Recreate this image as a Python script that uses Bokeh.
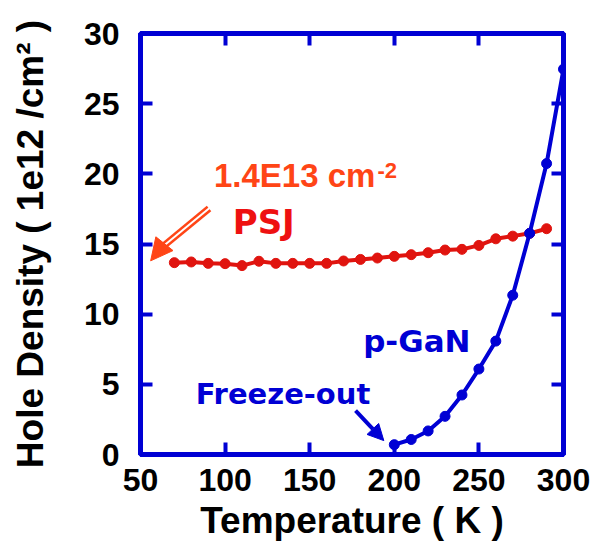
from bokeh.plotting import figure
from bokeh.models import Range1d, FixedTicker, LinearAxis, Label, Arrow, NormalHead, ColumnDataSource
from bokeh.embed import file_html
from bokeh.resources import INLINE

# ---- data ----
psj_temp = [70, 80, 90, 100, 110, 120, 130, 140, 150, 160, 170, 180, 190, 200,
            210, 220, 230, 240, 250, 260, 270, 280, 290]
psj_density = [13.67, 13.72, 13.62, 13.6, 13.46, 13.77, 13.62, 13.62, 13.62, 13.62,
               13.79, 13.9, 14.0, 14.12, 14.24, 14.38, 14.57, 14.62, 14.9, 15.37,
               15.56, 15.76, 16.09]
gan_temp = [200, 210, 220, 230, 240, 250, 260, 270, 280, 290, 300]
gan_density = [0.7, 1.07, 1.68, 2.72, 4.24, 6.09, 8.08, 11.35, 15.76, 20.73, 27.46]
x_ticks = [50, 100, 150, 200, 250, 300]
y_ticks = [0, 5, 10, 15, 20, 25, 30]

BLUE = "#0000d4"
RED = "#e0140f"
ORANGE = "#ff4516"
FONT = "Liberation Sans"
AFONT = "DejaVu Sans"

p = figure(width=596, height=546, output_backend="svg", toolbar_location=None,
           x_range=Range1d(50, 300), y_range=Range1d(0, 30),
           min_border_left=140, min_border_right=33, min_border_top=33, min_border_bottom=92)
p.xgrid.visible = False
p.ygrid.visible = False
p.outline_line_color = BLUE
p.outline_line_width = 5
p.background_fill_color = "white"

def style_axis(ax, labels=True):
    ax.axis_line_color = BLUE
    ax.axis_line_width = 5
    ax.major_tick_line_color = BLUE
    ax.major_tick_line_width = 4
    ax.major_tick_in = 12
    ax.major_tick_out = 0
    ax.minor_tick_line_color = None
    if labels:
        ax.major_label_text_font = FONT
        ax.major_label_text_font_style = "bold"
        ax.major_label_text_font_size = "32px"
        ax.major_label_text_color = "black"
        ax.axis_label_text_font = FONT
        ax.axis_label_text_font_style = "bold"
        ax.axis_label_text_font_size = "37px"
        ax.axis_label_text_color = "black"
    else:
        ax.major_label_text_font_size = "0px"
        ax.major_label_text_color = None
        ax.major_label_standoff = 0

p.xaxis.ticker = FixedTicker(ticks=x_ticks)
p.yaxis.ticker = FixedTicker(ticks=y_ticks)
style_axis(p.xaxis[0])
style_axis(p.yaxis[0])
p.xaxis.axis_label = "Temperature ( K )"
p.yaxis.axis_label = "Hole Density ( 1e12 /cm\u00b2 )"
p.xaxis.major_label_standoff = 14
p.xaxis.axis_label_standoff = 6
p.yaxis.major_label_standoff = 21
p.yaxis.axis_label_standoff = 30

top = LinearAxis(ticker=FixedTicker(ticks=x_ticks))
right = LinearAxis(ticker=FixedTicker(ticks=y_ticks))
style_axis(top, labels=False)
style_axis(right, labels=False)
p.add_layout(top, "above")
p.add_layout(right, "right")

# ---- series ----
psj = ColumnDataSource(dict(x=psj_temp, y=psj_density))
gan = ColumnDataSource(dict(x=gan_temp, y=gan_density))
p.line("x", "y", source=psj, line_color=RED, line_width=4)
p.scatter("x", "y", source=psj, size=10, fill_color=RED, line_color=RED)
p.line("x", "y", source=gan, line_color=BLUE, line_width=4)
p.scatter("x", "y", source=gan, size=10, fill_color=BLUE, line_color=BLUE)

# ---- annotations ----
p.add_layout(Label(x=93.4, y=19.9, text="1.4E13 cm", text_font=FONT, text_font_style="bold",
                   text_font_size="33px", text_color=ORANGE, text_baseline="alphabetic"))
p.add_layout(Label(x=190.0, y=20.8, text="-2", text_font=FONT, text_font_style="bold",
                   text_font_size="22px", text_color=ORANGE, text_baseline="top"))
p.add_layout(Label(x=104.5, y=16.6, text="PSJ", text_font=AFONT, text_font_style="bold",
                   text_font_size="34px", text_color="#ee1111", text_baseline="alphabetic"))
p.add_layout(Label(x=181.6, y=8.1, text="p-GaN", text_font=AFONT, text_font_style="bold",
                   text_font_size="31px", text_color=BLUE, text_baseline="alphabetic"))
p.add_layout(Label(x=82.6, y=4.3, text="Freeze-out", text_font=AFONT, text_font_style="bold",
                   text_font_size="29px", text_color=BLUE, text_baseline="alphabetic"))

# red hollow (double) arrow
p.segment(x0=[90.5], y0=[17.53], x1=[61.0], y1=[14.6], line_color=ORANGE, line_width=7)
p.segment(x0=[90.8], y0=[17.56], x1=[62.5], y1=[14.75], line_color="white", line_width=2)
p.add_layout(Arrow(x_start=62.0, y_start=14.7, x_end=56.0, y_end=13.8, line_alpha=0,
                   end=NormalHead(size=22, fill_color=ORANGE, line_color=ORANGE, line_width=1)))
# blue arrow
p.add_layout(Arrow(x_start=177.1, y_start=3.13, x_end=193.8, y_end=0.99,
                   line_color=BLUE, line_width=4,
                   end=NormalHead(size=16, fill_color=BLUE, line_color=BLUE, line_width=1)))

open("out.html", "w").write(file_html(p, INLINE))
